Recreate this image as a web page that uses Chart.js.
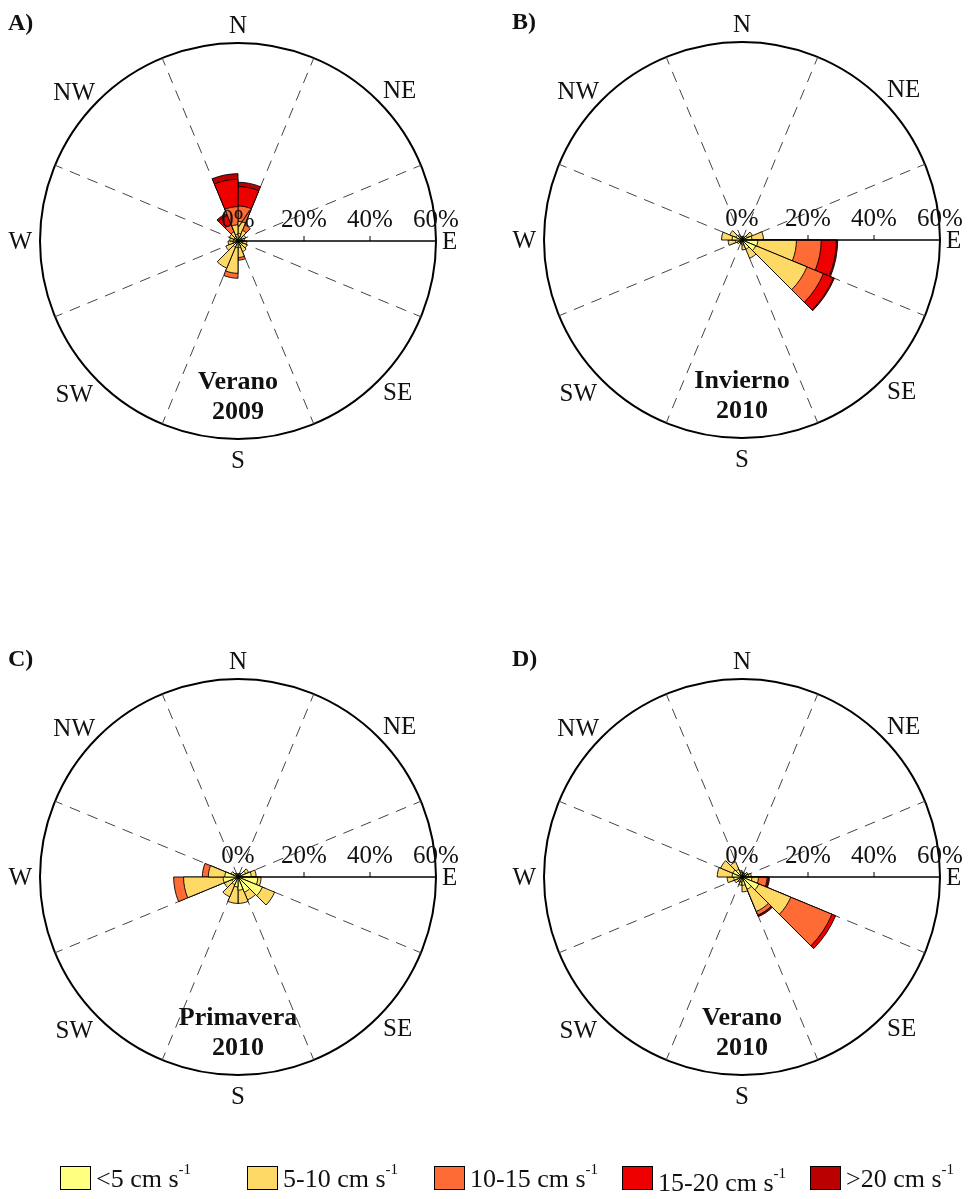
<!DOCTYPE html>
<html>
<head>
<meta charset="utf-8">
<script src="https://cdn.jsdelivr.net/npm/chart.js@4.4.1/dist/chart.umd.min.js"></script>
<style>
html,body{margin:0;padding:0;background:#fff;}
body{width:972px;height:1199px;position:relative;overflow:hidden;font-family:"Liberation Serif","Times New Roman",serif;}
canvas{position:absolute;}
.lg{position:absolute;width:31px;height:24px;border:1px solid #000;box-sizing:border-box;}
.lt{position:absolute;font-size:26px;line-height:26px;color:#111;white-space:nowrap;}
.lt sup{font-size:15px;line-height:0;position:relative;top:-3px;vertical-align:super;}
</style>
</head>
<body>
<canvas id="cA" width="486" height="560" style="left:0px;top:0px"></canvas>
<canvas id="cB" width="486" height="560" style="left:486px;top:0px"></canvas>
<canvas id="cC" width="486" height="560" style="left:0px;top:636px"></canvas>
<canvas id="cD" width="486" height="560" style="left:486px;top:636px"></canvas>
<div id="legend"></div>
<script>
// ---------- categories ----------
const sectorLabels = ['N-NNE','NNE-NE','NE-ENE','ENE-E','E-ESE','ESE-SE','SE-SSE','SSE-S',
                      'S-SSW','SSW-SW','SW-WSW','WSW-W','W-WNW','WNW-NW','NW-NNW','NNW-N'];
const classNames  = ['<5 cm s', '5-10 cm s', '10-15 cm s', '15-20 cm s', '>20 cm s'];
const classColors = ['#FFFF80', '#FFD966', '#FF6B35', '#EE0000', '#BB0000'];
const radialTicks = [0, 20, 40, 60];
const compassNames = ['N','NE','E','SE','S','SW','W','NW'];

// ---------- A) Verano 2009 (% per sector, per speed class) ----------
const ver09_lt5   = [2.3, 1.5, 1.3, 1.2, 1.4, 1.5, 1.5, 2.0, 2.0, 2.0, 1.5, 1.5, 1.3, 1.3, 1.5, 2.0];
const ver09_5_10  = [3.6, 2.0, 1.2, 0.8, 1.3, 1.5, 2.0, 3.0, 7.8, 6.9, 2.5, 1.5, 1.2, 1.5, 1.5, 2.9];
const ver09_10_15 = [4.7, 1.8, 0,   0,   0,   0,   0,   0.8, 1.5, 0,   0,   0,   0,   0,   2.5, 5.5];
const ver09_15_20 = [5.9, 0,   0,   0,   0,   0,   0,   0,   0,   0,   0,   0,   0,   0,   2.9, 8.3];
const ver09_gt20  = [1.3, 0,   0,   0,   0,   0,   0,   0,   0,   0,   0,   0,   0,   0,   0.6, 1.7];

// ---------- B) Invierno 2010 ----------
const inv10_lt5   = [0.8, 0.8, 1.8, 3.0, 4.8, 4.5, 3.0, 1.5, 0.8, 0.6, 1.0, 2.0, 3.0, 2.0, 1.2, 0.8];
const inv10_5_10  = [0.3, 0.4, 1.6, 3.5, 11.7,16.8, 3.0, 1.5, 0.4, 0.3, 0.6, 2.2, 3.2, 2.0, 0.6, 0.3];
const inv10_10_15 = [0,   0,   0,   0,   7.5, 5.4, 0,   0,   0,   0,   0,   0,   0,   0,   0,   0];
const inv10_15_20 = [0,   0,   0,   0,   4.6, 3.3, 0,   0,   0,   0,   0,   0,   0,   0,   0,   0];
const inv10_gt20  = [0,   0,   0,   0,   0.4, 0.3, 0,   0,   0,   0,   0,   0,   0,   0,   0,   0];

// ---------- C) Primavera 2010 ----------
const pri10_lt5   = [0.8, 1.0, 2.5, 4.0, 6.0, 8.0, 5.0, 4.0, 3.0, 2.5, 2.0, 4.5, 4.0, 1.5, 1.0, 0.8];
const pri10_5_10  = [0.2, 0.3, 1.0, 1.5, 1.0, 4.0, 2.5, 4.0, 5.0, 4.0, 2.5, 12.0,5.0, 0.8, 0.3, 0.2];
const pri10_10_15 = [0,   0,   0,   0,   0,   0,   0,   0,   0,   0,   0,   3.0, 1.8, 0,   0,   0];
const pri10_15_20 = [0,   0,   0,   0,   0,   0,   0,   0,   0,   0,   0,   0,   0,   0,   0,   0];
const pri10_gt20  = [0,   0,   0,   0,   0,   0,   0,   0,   0,   0,   0,   0,   0,   0,   0,   0];

// ---------- D) Verano 2010 ----------
const ver10_lt5   = [1.2, 1.0, 1.5, 2.0, 3.0, 5.5, 4.0, 2.5, 1.5, 1.2, 1.5, 2.5, 3.0, 3.0, 2.5, 1.5];
const ver10_5_10  = [0.3, 0.3, 0.5, 0.8, 2.0, 10.5,7.3, 2.0, 1.0, 0.5, 1.0, 2.0, 4.5, 4.0, 2.5, 0.5];
const ver10_10_15 = [0,   0,   0,   0,   2.6, 13.5,1.2, 0,   0,   0,   0,   0,   0,   0,   0,   0];
const ver10_15_20 = [0,   0,   0,   0,   0.4, 1.2, 0.1, 0,   0,   0,   0,   0,   0,   0,   0,   0];
const ver10_gt20  = [0,   0,   0,   0,   0.3, 0,   0.4, 0,   0,   0,   0,   0,   0,   0,   0,   0];

const panels = [
  {id:'cA', letter:'A)', title:['Verano','2009'],    padL:40, padT:43,
   series:[ver09_lt5, ver09_5_10, ver09_10_15, ver09_15_20, ver09_gt20]},
  {id:'cB', letter:'B)', title:['Invierno','2010'],  padL:58, padT:42,
   series:[inv10_lt5, inv10_5_10, inv10_10_15, inv10_15_20, inv10_gt20]},
  {id:'cC', letter:'C)', title:['Primavera','2010'], padL:40, padT:43,
   series:[pri10_lt5, pri10_5_10, pri10_10_15, pri10_15_20, pri10_gt20]},
  {id:'cD', letter:'D)', title:['Verano','2010'],    padL:58, padT:43,
   series:[ver10_lt5, ver10_5_10, ver10_10_15, ver10_15_20, ver10_gt20]}
];

// stacked (cumulative) radii so that overlaid polar areas look like a stacked rose
function cumulative(series) {
  const out = series.map(() => []);
  for (let i = 0; i < sectorLabels.length; i++) {
    let s = 0;
    series.forEach((arr, j) => { s += arr[i]; out[j][i] = arr[i] > 0 ? s : 0; });
  }
  return out;
}

const FONT = '"Liberation Serif","Times New Roman",serif';

const roseDecor = {
  id: 'roseDecor',
  beforeDatasetsDraw(chart) {
    const s = chart.scales.r, ctx = chart.ctx;
    const cx = s.xCenter, cy = s.yCenter, R = s.getDistanceFromCenterForValue(s.max);
    ctx.save();
    ctx.strokeStyle = '#444';
    ctx.lineWidth = 1;
    ctx.setLineDash([11, 8]);
    for (let k = 0; k < 8; k++) {
      const a = (22.5 + 45 * k) * Math.PI / 180;
      ctx.beginPath();
      ctx.moveTo(cx, cy);
      ctx.lineTo(cx + R * Math.sin(a), cy - R * Math.cos(a));
      ctx.stroke();
    }
    ctx.restore();
  },
  afterDatasetsDraw(chart, args, o) {
    const s = chart.scales.r, ctx = chart.ctx;
    const cx = s.xCenter, cy = s.yCenter, R = s.getDistanceFromCenterForValue(s.max);
    ctx.save();
    // E axis
    ctx.strokeStyle = '#000';
    ctx.lineWidth = 1.3;
    ctx.beginPath(); ctx.moveTo(cx, cy); ctx.lineTo(cx + R, cy); ctx.stroke();
    ctx.lineWidth = 1;
    radialTicks.forEach(v => {
      if (v > 0 && v < s.max) {
        const x = cx + s.getDistanceFromCenterForValue(v);
        ctx.beginPath(); ctx.moveTo(x, cy); ctx.lineTo(x, cy - 5); ctx.stroke();
      }
    });
    ctx.fillStyle = '#111';
    ctx.font = '25px ' + FONT;
    ctx.textAlign = 'center';
    ctx.textBaseline = 'alphabetic';
    radialTicks.forEach(v => {
      const x = cx + s.getDistanceFromCenterForValue(v);
      ctx.fillText(v + '%', x, cy - 14);
    });
    // compass labels
    const d = R * Math.SQRT1_2;
    const place = {
      N:  [cx, cy - R - 10, 'center'],
      NE: [cx + d + 5, cy - d - 3, 'left'],
      E:  [cx + R + 6, cy + 8, 'left'],
      SE: [cx + d + 5, cy + d + 19, 'left'],
      S:  [cx, cy + R + 29, 'center'],
      SW: [cx - d - 5, cy + d + 21, 'right'],
      W:  [cx - R - 8, cy + 8, 'right'],
      NW: [cx - d - 3, cy - d - 1, 'right']
    };
    compassNames.forEach(n => {
      const p = place[n];
      ctx.textAlign = p[2];
      ctx.fillText(n, p[0], p[1]);
    });
    // panel letter
    ctx.font = 'bold 24px ' + FONT;
    ctx.textAlign = 'left';
    ctx.fillText(o.letter, cx - 230, cy - 211);
    // season title
    ctx.font = 'bold 26px ' + FONT;
    ctx.textAlign = 'center';
    ctx.fillText(o.title[0], cx, cy + 148);
    ctx.fillText(o.title[1], cx, cy + 178);
    ctx.restore();
  }
};

panels.forEach(p => {
  const cum = cumulative(p.series);
  new Chart(document.getElementById(p.id), {
    type: 'polarArea',
    data: {
      labels: sectorLabels,
      datasets: cum.map((d, j) => ({
        label: classNames[j],
        data: d,
        backgroundColor: classColors[j],
        borderColor: '#000',
        borderWidth: 0.9
      }))
    },
    options: {
      responsive: false,
      animation: false,
      events: [],
      layout: { padding: { left: p.padL, top: p.padT, right: 486 - 396 - p.padL, bottom: 560 - 396 - p.padT } },
      plugins: {
        legend: { display: false },
        tooltip: { enabled: false },
        roseDecor: { letter: p.letter, title: p.title }
      },
      scales: {
        r: {
          min: 0, max: 60, startAngle: 0,
          ticks: { display: false, stepSize: 20 },
          angleLines: { display: false },
          pointLabels: { display: false },
          grid: {
            circular: true,
            color: c => (c.tick && c.tick.value === 60) ? '#000' : 'rgba(0,0,0,0)',
            lineWidth: 2
          }
        }
      }
    },
    plugins: [roseDecor]
  });
});

// legend (HTML)
const legendX = [60, 247, 434, 622, 810];
const legendTextDy = [0, 0, 0, 4, 0];
const lg = document.getElementById('legend');
classNames.forEach((n, j) => {
  const b = document.createElement('div');
  b.className = 'lg';
  b.style.left = legendX[j] + 'px';
  b.style.top = '1166px';
  b.style.background = classColors[j];
  lg.appendChild(b);
  const t = document.createElement('div');
  t.className = 'lt';
  t.style.left = (legendX[j] + 36) + 'px';
  t.style.top = (1166 + legendTextDy[j]) + 'px';
  t.textContent = n;
  const sup = document.createElement('sup');
  sup.textContent = '-1';
  t.appendChild(sup);
  lg.appendChild(t);
});
</script>
</body>
</html>
